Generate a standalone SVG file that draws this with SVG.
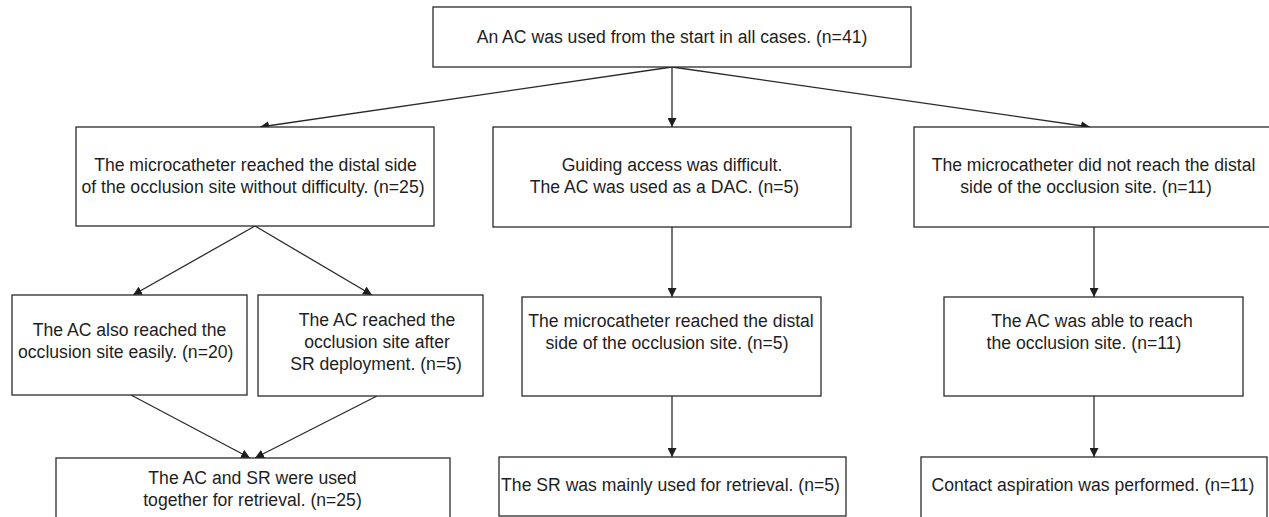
<svg xmlns="http://www.w3.org/2000/svg" width="1269" height="517" viewBox="0 0 1269 517">
<style>
.box{fill:#fff;stroke:#2a2a2a;stroke-width:1.3}
.t{font-family:"Liberation Sans",Arial,sans-serif;font-size:17.6px;fill:#1e1e1e;text-anchor:middle}
.c{stroke:#2a2a2a;stroke-width:1.3;fill:none;marker-end:url(#ah)}
</style>
<defs>
<marker id="ah" viewBox="0 0 10 10" refX="10" refY="5" markerWidth="9" markerHeight="9" markerUnits="userSpaceOnUse" orient="auto">
<path d="M0,0 L10,5 L0,10 z" fill="#1e1e1e"/>
</marker>
</defs>
<rect width="1269" height="517" fill="#fff"/>
<g id="connectors">
<line class="c" x1="672" y1="67" x2="260" y2="127"/>
<line class="c" x1="672" y1="67" x2="672" y2="127"/>
<line class="c" x1="672" y1="67" x2="1090" y2="127"/>
<line class="c" x1="255" y1="226" x2="133" y2="295"/>
<line class="c" x1="255" y1="226" x2="372" y2="295"/>
<line class="c" x1="672" y1="227" x2="672" y2="297"/>
<line class="c" x1="1094" y1="227" x2="1094" y2="297"/>
<line class="c" x1="131" y1="395" x2="250" y2="458"/>
<line class="c" x1="377" y1="396" x2="255" y2="458"/>
<line class="c" x1="672" y1="396" x2="672" y2="457"/>
<line class="c" x1="1094" y1="396" x2="1094" y2="457"/>
</g>
<g id="n_top">
<rect class="box" x="433" y="7" width="478" height="60"/>
<text class="t" x="672" y="43">An AC was used from the start in all cases. (n=41)</text>
</g>
<g id="n_left">
<rect class="box" x="76" y="127" width="358" height="99"/>
<text class="t" x="255.5" y="171">The microcatheter reached the distal side</text>
<text class="t" x="253" y="193">of the occlusion site without difficulty. (n=25)</text>
</g>
<g id="n_mid">
<rect class="box" x="493" y="127" width="358" height="100"/>
<text class="t" x="672" y="171">Guiding access was difficult.</text>
<text class="t" x="664.5" y="193">The AC was used as a DAC. (n=5)</text>
</g>
<g id="n_right">
<rect class="box" x="914" y="127" width="362" height="100"/>
<text class="t" x="1093.5" y="171">The microcatheter did not reach the distal</text>
<text class="t" x="1086" y="193">side of the occlusion site. (n=11)</text>
</g>
<g id="n_a">
<rect class="box" x="12" y="295" width="235" height="100"/>
<text class="t" x="129.5" y="336">The AC also reached the</text>
<text class="t" x="125.7" y="358">occlusion site easily. (n=20)</text>
</g>
<g id="n_b">
<rect class="box" x="258" y="295" width="225" height="101"/>
<text class="t" x="377" y="326">The AC reached the</text>
<text class="t" x="377" y="348">occlusion site after</text>
<text class="t" x="376" y="370">SR deployment. (n=5)</text>
</g>
<g id="n_mid2">
<rect class="box" x="522" y="297" width="299" height="99"/>
<text class="t" x="671" y="327">The microcatheter reached the distal</text>
<text class="t" x="667" y="349">side of the occlusion site. (n=5)</text>
</g>
<g id="n_right2">
<rect class="box" x="944" y="297" width="299" height="99"/>
<text class="t" x="1092" y="327">The AC was able to reach</text>
<text class="t" x="1084" y="349">the occlusion site. (n=11)</text>
</g>
<g id="n_bl">
<rect class="box" x="56" y="458" width="394" height="70"/>
<text class="t" x="252.5" y="484">The AC and SR were used</text>
<text class="t" x="252.5" y="506">together for retrieval. (n=25)</text>
</g>
<g id="n_bm">
<rect class="box" x="499" y="457" width="347" height="59"/>
<text class="t" x="670.5" y="491">The SR was mainly used for retrieval. (n=5)</text>
</g>
<g id="n_br">
<rect class="box" x="921" y="457" width="346" height="70"/>
<text class="t" x="1093" y="491">Contact aspiration was performed. (n=11)</text>
</g>
</svg>
